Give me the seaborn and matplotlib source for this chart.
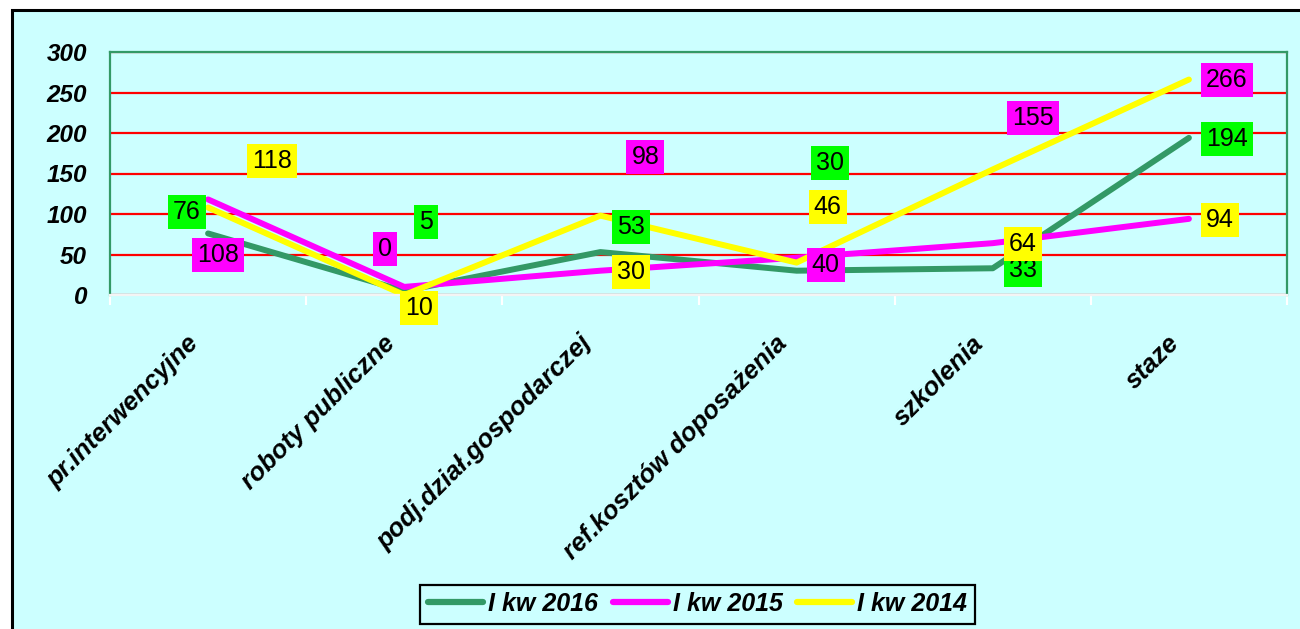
import numpy as np
import pandas as pd
import matplotlib
matplotlib.use("Agg")
import matplotlib.pyplot as plt
import matplotlib.patches as mpatches
from matplotlib.transforms import ScaledTranslation
import seaborn as sns

# ---- data ----
categories = ["pr.interwencyjne", "roboty publiczne", "podj.dział.gospodarczej",
              "ref.kosztów doposażenia", "szkolenia", "staze"]
series_names = ["I kw 2016", "I kw 2015", "I kw 2014"]
kw2016 = [76, 5, 53, 30, 33, 194]
kw2015 = [118, 10, 30, 46, 64, 94]
kw2014 = [108, 0, 98, 40, 155, 266]
y_ticks = [0, 50, 100, 150, 200, 250, 300]

# ---- styles / layout ----
line_colors = {"I kw 2016": "#339966", "I kw 2015": "#FF00FF", "I kw 2014": "#FFFF00"}
box_colors = {"I kw 2016": "#00FF00", "I kw 2015": "#FFFF00", "I kw 2014": "#FF00FF"}
# label offsets in pixels from the data point (dx right, dy up)
label_offsets = {
    "I kw 2016": [(-21, 21), (22, 69), (31, 25), (33, 108), (30, -2), (38, -1)],
    "I kw 2015": [(64, 38), (15, -21), (31, -1), (31, 51), (30, -1), (31, -1)],
    "I kw 2014": [(10, -47), (-19, 46), (45, 59), (29, -2), (40, 51), (38, 0)],
}
BG = "#CCFFFF"

plt.rcParams["font.family"] = ["Liberation Sans", "DejaVu Sans"]

values = {"I kw 2016": kw2016, "I kw 2015": kw2015, "I kw 2014": kw2014}
rows = []
for name in series_names:
    for i, v in enumerate(values[name]):
        rows.append({"pos": i, "value": v, "series": name})
df = pd.DataFrame(rows)

fig = plt.figure(figsize=(13, 6.29), dpi=100, facecolor="white")
bg = mpatches.Rectangle((12 / 1300, -0.1), 1.2, 1.1 - 10 / 629, transform=fig.transFigure,
                        facecolor=BG, edgecolor="black", lw=2.2, zorder=-10)
fig.patches.append(bg)

ax = fig.add_axes([110 / 1300, 1 - 295 / 629, (1287 - 110) / 1300, (295 - 52) / 629])
ax.set_zorder(1)
ax.set_facecolor(BG)

sns.lineplot(data=df, x="pos", y="value", hue="series", hue_order=series_names,
             palette=line_colors, linewidth=4.3, ax=ax, sort=False, legend=True,
             solid_capstyle="round")
for ln in ax.get_lines():
    ln.set_clip_on(False)

handles, labels = ax.get_legend_handles_labels()
ax.get_legend().remove()

# data labels
for name in series_names:
    for i, v in enumerate(values[name]):
        dx, dy = label_offsets[name][i]
        ax.annotate(str(v), xy=(i, v), xytext=(dx, dy), textcoords="offset pixels",
                    ha="center", va="center", fontsize=18, color="black",
                    bbox=dict(boxstyle="square,pad=0.2", facecolor=box_colors[name],
                              edgecolor="none"),
                    zorder=5, annotation_clip=False)

ax.set_xlim(-0.5, len(categories) - 0.5)
ax.set_ylim(0, 300)
ax.set_xlabel("")
ax.set_ylabel("")

ax.set_yticks(y_ticks)
ax.set_yticklabels([str(t) for t in y_ticks], fontsize=17.5, fontweight="bold", style="italic")
ax.tick_params(axis="y", length=0, pad=16.5)

ax.set_xticks(range(len(categories)))
ax.set_xticklabels(categories, rotation=45, ha="right", va="center", rotation_mode="anchor",
                   fontsize=18.5, fontweight="bold", style="italic")
ax.set_xticks(np.arange(-0.5, len(categories), 1), minor=True)
ax.tick_params(axis="x", which="major", length=0, pad=32)
ax.tick_params(axis="x", which="minor", length=7, width=1.5, color="white", direction="out")
shift = ScaledTranslation(-13 / 100, 0, fig.dpi_scale_trans)
for lbl in ax.get_xticklabels():
    lbl.set_transform(lbl.get_transform() + shift)

ax.grid(False)
ax.yaxis.grid(True, color="#FF0000", lw=1.6)
ax.set_axisbelow(True)
for side in ["top", "right", "left"]:
    ax.spines[side].set_color("#339966")
    ax.spines[side].set_linewidth(1.6)
ax.spines["bottom"].set_color("#F4F4F4")
ax.spines["bottom"].set_linewidth(1.6)

leg = fig.legend(handles, labels, loc="center", bbox_to_anchor=(697.5 / 1300, 1 - 604 / 629),
                 bbox_transform=fig.transFigure, ncol=3, frameon=True, fancybox=False,
                 edgecolor="black", facecolor=BG, framealpha=1,
                 prop=dict(family="Liberation Sans", weight="bold", style="italic", size=18),
                 handlelength=2.2, handletextpad=0.2, columnspacing=0.6,
                 borderpad=0.3, borderaxespad=0)
leg.get_frame().set_linewidth(1.6)
for ln in leg.get_lines():
    ln.set_linewidth(4.5)
    ln.set_solid_capstyle("round")

fig.savefig("out.png", dpi=100, facecolor="white")
